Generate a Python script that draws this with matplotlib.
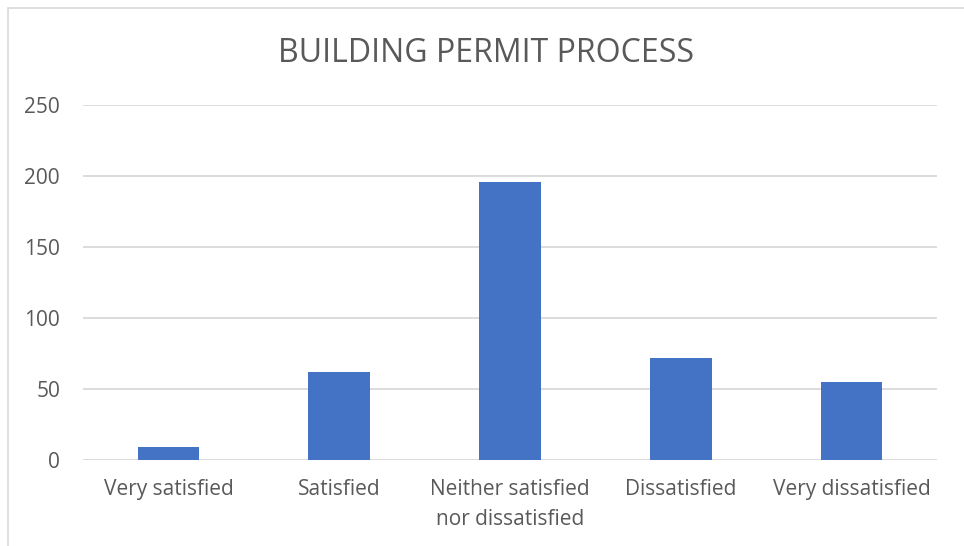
import matplotlib.pyplot as plt
from matplotlib.patches import Rectangle

# survey responses
categories = ["Very satisfied", "Satisfied", "Neither satisfied\nnor dissatisfied",
              "Dissatisfied", "Very dissatisfied"]
counts = [9, 62, 196, 72, 55]
yticks = [0, 50, 100, 150, 200, 250]

plt.rcParams['font.family'] = ['Open Sans', 'DejaVu Sans']
text_color = '#595959'
grid_color = '#D9D9D9'

fig = plt.figure(figsize=(9.64, 5.46), dpi=100)
ax = fig.add_axes([83 / 964, 1 - 460 / 546, (937 - 83) / 964, (460 - 105) / 546])

ax.bar(range(len(categories)), counts, width=0.36, color='#4472C4', zorder=3)
ax.set_xlim(-0.5, len(categories) - 0.5)
ax.set_ylim(0, 250)
ax.set_yticks(yticks)
ax.set_xticks(range(len(categories)))
ax.set_xticklabels(categories, fontsize=15, color=text_color, linespacing=1.55)
ax.tick_params(axis='y', labelsize=15, labelcolor=text_color, length=0, pad=16.5)
ax.tick_params(axis='x', length=0, pad=14)
ax.yaxis.grid(True, color=grid_color, linewidth=1.3, zorder=0)
for s in ax.spines.values():
    s.set_visible(False)

fig.text(486 / 964, 1 - 54 / 546, "BUILDING PERMIT PROCESS", ha='center', va='center',
         fontsize=23, color=text_color)

# chart frame
fig.patches.append(Rectangle((8 / 964, -0.1), 1.2, 1 - 8 / 546 + 0.1, transform=fig.transFigure,
                             fill=False, edgecolor=grid_color, linewidth=1.2))

plt.savefig('out.png', dpi=100)
